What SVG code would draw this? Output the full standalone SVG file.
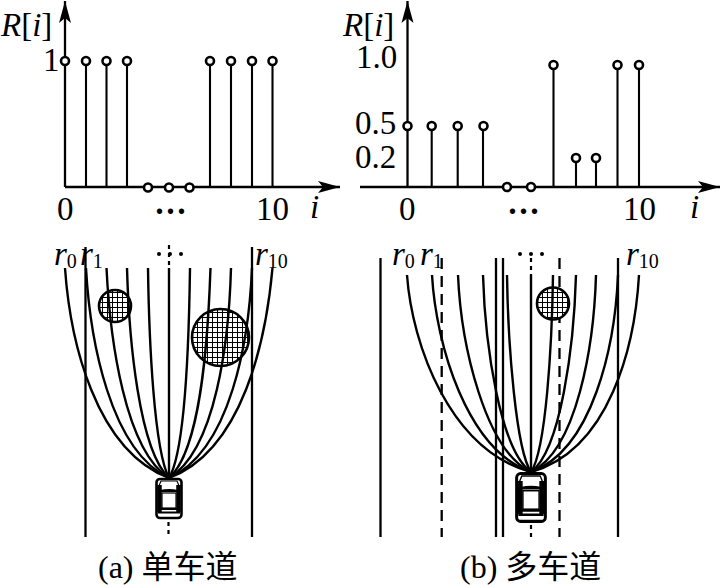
<svg xmlns="http://www.w3.org/2000/svg" width="720" height="585" viewBox="0 0 720 585">
<style>
.ax{stroke:#000;stroke-width:2.3;fill:none}
.st{stroke:#000;stroke-width:2.1;fill:none}
.c{stroke:#000;stroke-width:2.6;fill:#fff}
.cv{stroke:#000;stroke-width:2.4;fill:none}
.dash{stroke:#000;stroke-width:2.3;fill:none;stroke-dasharray:11 7}
.dot{stroke:#000;stroke-width:2.2;fill:none;stroke-dasharray:4 4}
.ob{stroke:#000;stroke-width:2.6;fill:url(#hatch)}
text{font-family:"Liberation Serif","Noto Sans CJK SC",serif;fill:#000}
.n{font-size:33px}
.i{font-size:33px;font-style:italic}
.r{font-size:33px;font-style:italic}
.s{font-size:20px;font-style:normal}
.cap{font-size:32px}
.el{font-size:33px;font-weight:bold}
</style>
<defs>
<marker id="arr" markerUnits="userSpaceOnUse" markerWidth="24" markerHeight="14" refX="22" refY="7" orient="auto"><path d="M0 1L22 7L0 13L5 7Z" fill="#000"/></marker>
<pattern id="hatch" width="5" height="5" patternUnits="userSpaceOnUse"><rect width="5" height="5" fill="#fff"/><path d="M2.500 0V5M0 2.500H5" stroke="#000" stroke-width="1"/></pattern>
<g id="car">
<rect x="-12.500" y="0" width="25" height="39" rx="3.500" fill="#fff" stroke="#000" stroke-width="2.600"/>
<path d="M-9.500 6V33M9.500 6V33" stroke="#000" stroke-width="4.500" fill="none"/>
<path d="M-9 11Q0 9 9 11L9 13H-9Z" fill="#000"/>
<rect x="-7" y="14" width="14" height="15" fill="#fff" stroke="#000" stroke-width="1.200"/>
<path d="M-11 30H11M-11 33.500H11" stroke="#000" stroke-width="2"/>
<path d="M-11 9L-8 2H8L11 9" stroke="#000" stroke-width="1.200" fill="none"/>
</g>
</defs>

<g id="chart-a">
<line class="ax" x1="65" y1="187" x2="65" y2="1" marker-end="url(#arr)"/>
<line class="ax" x1="65" y1="187" x2="340" y2="187" marker-end="url(#arr)"/>
<path class="st" d="M86 187V61M106.500 187V61M127 187V61M210 187V61M231 187V61M252 187V61M272.500 187V61"/>
<g class="c"><circle cx="65" cy="61" r="4"/><circle cx="86" cy="61" r="4"/><circle cx="106.500" cy="61" r="4"/><circle cx="127" cy="61" r="4"/><circle cx="210" cy="61" r="4"/><circle cx="231" cy="61" r="4"/><circle cx="252" cy="61" r="4"/><circle cx="272.500" cy="61" r="4"/><circle cx="148" cy="187.500" r="4"/><circle cx="169" cy="187.500" r="4"/><circle cx="189.500" cy="187.500" r="4"/></g>
<text class="n" x="1" y="36"><tspan class="i">R</tspan>[<tspan class="i">i</tspan>]</text>
<text class="n" x="43" y="71">1</text>
<text class="n" x="57" y="220">0</text>
<text class="n" x="256" y="220">10</text>
<text class="i" x="310" y="218">i</text>
<text class="el" x="154" y="222">···</text>
</g>

<g id="chart-b">
<line class="ax" x1="407.500" y1="187" x2="407.500" y2="1" marker-end="url(#arr)"/>
<line class="ax" x1="360" y1="187" x2="720" y2="187" marker-end="url(#arr)"/>
<path class="st" d="M431.700 187V126M457.700 187V126M483 187V126M553.500 187V65M576 187V158M596 187V158M617.500 187V65M639 187V65"/>
<g class="c"><circle cx="407.500" cy="126" r="4"/><circle cx="431.700" cy="126" r="4"/><circle cx="457.700" cy="126" r="4"/><circle cx="483.500" cy="126" r="4"/><circle cx="553.500" cy="65" r="4"/><circle cx="576" cy="158" r="4"/><circle cx="596" cy="158" r="4"/><circle cx="617.500" cy="65" r="4"/><circle cx="639" cy="65" r="4"/><circle cx="507" cy="187" r="4"/><circle cx="531" cy="187" r="4"/></g>
<text class="n" x="343" y="36"><tspan class="i">R</tspan>[<tspan class="i">i</tspan>]</text>
<text class="n" x="356" y="68">1.0</text>
<text class="n" x="355" y="134">0.5</text>
<text class="n" x="355" y="168">0.2</text>
<text class="n" x="399" y="220">0</text>
<text class="n" x="623" y="220">10</text>
<text class="i" x="690" y="218">i</text>
<text class="el" x="507" y="222">···</text>
</g>

<g id="road-a">
<path class="ax" d="M85.500 247V537M252 247V537"/>
<path class="dot" d="M169 245V268M168.500 522V538"/>
<circle cx="159" cy="254" r="2"/><circle cx="170" cy="254" r="2"/><circle cx="181" cy="254" r="2"/>
</g>
<g id="obstacles-a">
<circle class="ob" cx="115" cy="306" r="16"/>
<circle class="ob" cx="220.500" cy="337.500" r="28.500"/>
</g>
<g id="paths-a">
<path class="cv" d="M65 268C70 340 95 450 169 478"/>
<path class="cv" d="M86 268C90 340 110 450 169 478"/>
<path class="cv" d="M106.500 268C110 340 125 450 169 478"/>
<path class="cv" d="M127 268C129 340 139 450 169 478"/>
<path class="cv" d="M148 268C149 340 154 450 169 478"/>
<path class="cv" d="M169 268V478"/>
<path class="cv" d="M190 268C189 340 186 450 169 478"/>
<path class="cv" d="M210.500 268C208 340 201 450 169 478"/>
<path class="cv" d="M231 268C229 340 216 450 169 478"/>
<path class="cv" d="M252 268C249 340 231 450 169 478"/>
<path class="cv" d="M272.500 268C266 340 243 450 169 478"/>
</g>
<use id="car-a" href="#car" x="169" y="479"/>
<g id="labels-a">
<text class="r" x="54" y="265">r<tspan class="s" dy="3">0</tspan></text>
<text class="r" x="80" y="265">r<tspan class="s" dy="3">1</tspan></text>
<text class="r" x="255" y="265">r<tspan class="s" dy="3">10</tspan></text>
<text class="cap" x="98" y="578">(a) 单车道</text>
</g>

<g id="road-b">
<path class="ax" d="M380.500 258V537M496 258V537M503 258V537M618 258V537"/>
<path class="dash" d="M441.700 258V537M559.500 258V537"/>
<path class="dot" d="M531 258V275M531 525V538"/>
<circle cx="520" cy="254" r="2"/><circle cx="531" cy="254" r="2"/><circle cx="542" cy="254" r="2"/>
</g>
<g id="obstacles-b">
<circle class="ob" cx="553" cy="303.500" r="16"/>
</g>
<g id="paths-b">
<path class="cv" d="M407 275C412 345 450 450 531 472"/>
<path class="cv" d="M432 275C436 345 467 450 531 472"/>
<path class="cv" d="M458 275C461 345 485 450 531 472"/>
<path class="cv" d="M483 275C485 345 500 450 531 472"/>
<path class="cv" d="M507 275C508 345 516 450 531 472"/>
<path class="cv" d="M531 275V472"/>
<path class="cv" d="M553 275C552 345 546 450 531 472"/>
<path class="cv" d="M576 275C574 345 561 450 531 472"/>
<path class="cv" d="M596 275C594 345 577 450 531 472"/>
<path class="cv" d="M618 275C615 345 593 450 531 472"/>
<path class="cv" d="M639 275C635 345 610 450 531 472"/>
</g>
<use id="car-b" href="#car" transform="translate(531 473.500) scale(1.150 1.230)"/>
<g id="labels-b">
<text class="r" x="392" y="265">r<tspan class="s" dy="3">0</tspan></text>
<text class="r" x="420" y="265">r<tspan class="s" dy="3">1</tspan></text>
<text class="r" x="626" y="265">r<tspan class="s" dy="3">10</tspan></text>
<text class="cap" x="460" y="578">(b) 多车道</text>
</g>
</svg>
